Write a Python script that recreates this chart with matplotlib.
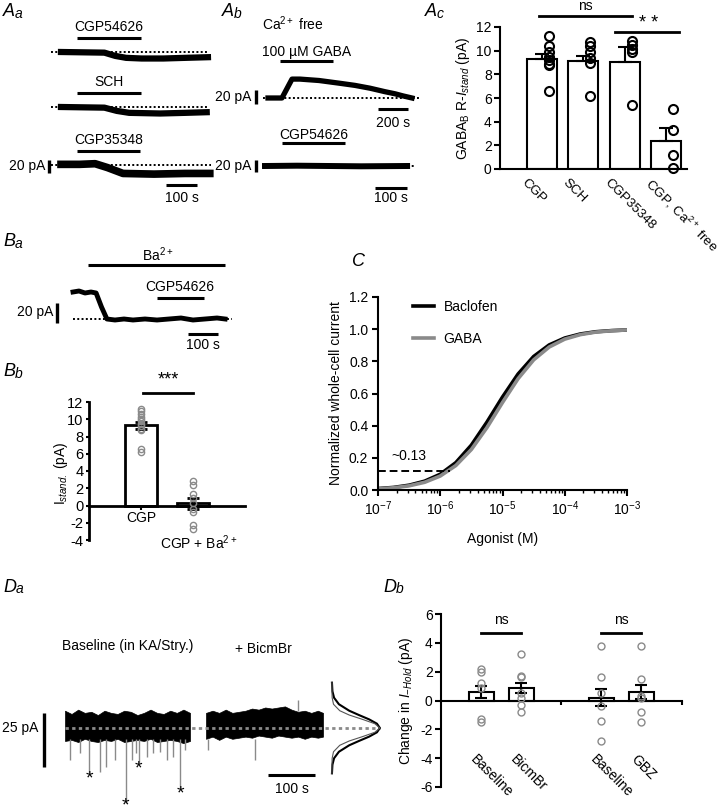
import numpy as np
import matplotlib.pyplot as plt

plt.rcParams['font.family'] = ['Liberation Sans', 'DejaVu Sans']
plt.rcParams['font.size'] = 10
plt.rcParams['mathtext.fontset'] = 'custom'
plt.rcParams['mathtext.rm'] = 'Liberation Sans'
plt.rcParams['mathtext.it'] = 'Liberation Sans:italic'
plt.rcParams['mathtext.bf'] = 'Liberation Sans:bold'
plt.rcParams['axes.linewidth'] = 1.5
plt.rcParams['axes.unicode_minus'] = False

W, H = 718, 811

# ---------------- data ----------------
# Aa: holding-current traces, time (s) / current (pA)
aa1_t = [0, 140, 175, 210, 260, 330, 400, 474]
aa1_i = [0, -1, -6, -9, -10, -10, -9, -8]
aa1_on = [52, 258]
aa2_t = [0, 140, 180, 220, 320, 400, 470]
aa2_i = [0, -1, -6, -9, -10, -9, -8]
aa2_on = [52, 258]
aa3_t = [0, 60, 110, 150, 200, 300, 400, 480]
aa3_i = [1, 1, 2, -4, -13, -14, -13, -13]
aa3_on = [52, 255]

# Ab: Ca2+ free, GABA then CGP54626
ab1_t = [0, 93, 160, 213, 340, 480, 580, 680, 780, 847, 900, 960]
ab1_i = [0, 0, 27, 27, 25, 21, 18, 14, 9, 6, 3, 0]
ab1_on = [80, 433]
ab2_t = [0, 100, 200, 300, 444]
ab2_i = [0, 0.5, 0, -0.5, 0]
ab2_on = [53, 250]

# Ac: GABAB R-I_stand
ac_labels = ["CGP", "SCH", "CGP35348", "CGP, Ca$^{2+}$ free"]
ac_mean = [9.3, 9.1, 9.05, 2.4]
ac_sem = [0.4, 0.45, 1.25, 1.1]
ac_pts = [[11.2, 10.4, 9.9, 9.5, 9.2, 8.9, 8.8, 6.6],
          [10.7, 10.4, 9.9, 9.4, 9.0, 6.2],
          [10.8, 10.5, 10.1, 9.9, 5.4],
          [5.1, 3.3, 1.2, 0.1]]

# Ba: Ba2+ then CGP54626
ba_t = [0, 20, 40, 60, 77, 95, 113, 140, 170, 200, 240, 280, 320, 360, 400, 440, 480, 507]
ba_i = [27, 28, 26, 27, 26, 12, 0, -1, 0, -1, 0, -1, 0, 1, -1, 0, 1, 0]
ba_ba_on = [50, 507]
ba_cgp_on = [280, 437]

# Bb: I_stand
bb_labels = ["CGP", "CGP + Ba$^{2+}$"]
bb_mean = [9.3, 0.25]
bb_sem = [0.4, 0.65]
bb_pts = [[11.2, 10.9, 10.6, 10.3, 10.0, 9.8, 9.5, 9.2, 8.9, 8.7, 6.6, 6.2],
          [2.8, 2.4, 1.3, 0.9, 0.3, -0.4, -0.8, -2.3, -2.7]]

# C: dose-response
c_logx = [-7, -6.75, -6.5, -6.25, -6, -5.75, -5.5, -5.25, -5, -4.75, -4.5, -4.25, -4, -3.75, -3.5, -3.25, -3]
c_baclofen = [0.009, 0.016, 0.030, 0.055, 0.098, 0.170, 0.279, 0.422, 0.578, 0.721, 0.830, 0.902, 0.945, 0.970, 0.984, 0.991, 0.995]
c_gaba = [0.0075, 0.014, 0.026, 0.048, 0.087, 0.152, 0.252, 0.388, 0.544, 0.692, 0.809, 0.889, 0.938, 0.966, 0.982, 0.990, 0.995]
c_thresh = 0.12

# Da: baseline (KA/Stry.) and + BicmBr noise envelopes
da1_t = [0, 14, 28, 42, 56, 70, 84, 98, 112, 126, 140, 154, 168, 182, 196, 210, 224, 238, 252, 266]
da1_hi = [8, 6.5, 8.5, 7, 7.5, 6, 8, 7, 6.5, 8, 7.5, 6, 7, 8.5, 7, 6.5, 8, 7, 8.5, 7]
da1_lo = [-6, -5.5, -6.5, -5, -6, -6.5, -5.5, -6, -5, -6.5, -6, -5.5, -6, -5, -6.5, -6, -5.5, -6, -7, -6]
da2_t = [300, 314, 328, 342, 356, 370, 384, 398, 412, 426, 440, 454, 468, 482, 496, 510, 524, 538, 549]
da2_hi = [7, 8, 7, 8.5, 7, 7.5, 8, 9, 8.5, 9.5, 9, 9.5, 10, 8.5, 7.5, 8, 7, 8, 7]
da2_lo = [-5, -4, -5.5, -4, -5, -4.5, -4, -4.5, -3.5, -4, -4.5, -3.5, -4, -4.5, -4, -5, -4, -4.5, -4]
da_spk_t = [11, 32, 52, 75, 87, 106, 129, 142, 151, 157, 174, 188, 202, 216, 230, 245, 255, 305, 404]
da_spk_i = [-14.8, -11.6, -20.8, -20.4, -18, -14.8, -34.7, -14.8, -11.6, -16.2, -13.4, -11.6, -11, -14.8, -13.4, -27.8, -10, -10.2, -14.8]
da_star_t = [52, 129, 157, 245]
da_star_i = [-20.8, -33.5, -16.2, -27.8]
da_hist_i = [-21, -17, -14, -11, -8, -6, -4, -2, 0, 2, 4, 6, 8, 11, 14, 17, 21]
da_hist_base = [0.0, 0.01, 0.044, 0.145, 0.36, 0.563, 0.775, 0.938, 1.0, 0.938, 0.775, 0.563, 0.36, 0.145, 0.044, 0.01, 0.0]
da_hist_bic = [0.0, 0.0, 0.004, 0.032, 0.163, 0.361, 0.636, 0.893, 1.0, 0.893, 0.636, 0.361, 0.163, 0.032, 0.004, 0.0, 0.0]

# Db: change in I-Hold
db_labels = ["Baseline", "BicmBr", "Baseline", "GBZ"]
db_mean = [0.6, 0.85, 0.2, 0.6]
db_sem = [0.4, 0.35, 0.6, 0.5]
db_pts = [[2.2, 2.0, 1.2, 0.9, -1.3, -1.5],
          [3.2, 1.7, 1.6, 0.5, 0.2, -0.3, -0.8],
          [3.8, 1.6, 0.5, -0.4, -1.4, -2.8],
          [3.8, 1.5, 0.3, 0.2, -0.8, -1.5]]

GREY = '#8a8a8a'

fig = plt.figure(figsize=(W / 100, H / 100), dpi=100)


def px_axes(x0, y0, x1, y1):
    return fig.add_axes([x0 / W, 1 - y1 / H, (x1 - x0) / W, (y1 - y0) / H])


def trace_ax(x0, y0, sx, sy, tr, ir):
    # axes in data units (s, pA) with t=0, I=0 at pixel (x0, y0)
    ax = px_axes(x0 + tr[0] * sx, y0 - ir[1] * sy, x0 + tr[1] * sx, y0 - ir[0] * sy)
    ax.set_xlim(*tr)
    ax.set_ylim(*ir)
    ax.axis('off')
    ax.patch.set_visible(False)
    return ax


def hbar(ax, x, y, lw=2.2):
    ax.plot(x, [y, y], color='k', lw=lw, solid_capstyle='butt')


def vbar(ax, x, y, lw=2.2):
    ax.plot([x, x], y, color='k', lw=lw, solid_capstyle='butt')


DOT = (0, (1, 1.2))


def panel_label(x, y, big, small):
    fig.text(x / W, 1 - y / H, big, fontsize=13, style='italic', va='center')
    if small:
        dx = 13 if big == 'D' else 12
        fig.text((x + dx) / W, 1 - (y + 2) / H, small, fontsize=10, style='italic', va='center')


panel_label(3, 12, 'A', 'a')
panel_label(222, 12, 'A', 'b')
panel_label(425, 12, 'A', 'c')
panel_label(3, 242, 'B', 'a')
panel_label(3, 372, 'B', 'b')
panel_label(352, 262, 'C', '')
panel_label(3, 587, 'D', 'a')
panel_label(383, 587, 'D', 'b')

# ---------------- Aa ----------------
for y0, t, i, on, name, lw in [(52, aa1_t, aa1_i, aa1_on, 'CGP54626', 4.5),
                               (107, aa2_t, aa2_i, aa2_on, 'SCH', 4.5),
                               (165, aa3_t, aa3_i, aa3_on, 'CGP35348', 5.5)]:
    ax = trace_ax(61, y0, 0.31, 0.65, (-200, 600), (-70, 80))
    ax.plot([t[0] - 32, t[-1] + 4], [0, 0], color='k', lw=1.4, ls=DOT)
    ax.plot(t, i, color='k', lw=lw)
    hbar(ax, on, 22)
    ax.text(np.mean(on), 38, name, ha='center', va='center')
    if name == 'CGP35348':
        vbar(ax, -39, [7.7, -12.3], lw=2.4)
        ax.text(-52, -1, '20 pA', ha='right', va='center')
        hbar(ax, [339, 439], -31)
        ax.text(389, -51, '100 s', ha='center', va='center')

# ---------------- Ab ----------------
ax = trace_ax(268, 98, 0.15, 0.7, (-400, 1100), (-60, 130))
ax.plot([-33, 1013], [0, 0], color='k', lw=1.4, ls=DOT)
ax.plot(ab1_t, ab1_i, color='k', lw=3.8)
hbar(ax, ab1_on, 53)
ax.text(-40, 66, '100 µM GABA', ha='left', va='center')
ax.text(-40, 106, 'Ca$^{2+}$ free', ha='left', va='center')
vbar(ax, -80, [11.4, -8.6], lw=2.4)
ax.text(-113, 1, '20 pA', ha='right', va='center')
hbar(ax, [733, 933], -16)
ax.text(833, -36, '200 s', ha='center', va='center')

ax = trace_ax(265, 166, 0.32, 0.6, (-200, 550), (-70, 80))
ax.plot([-10, 470], [0, 0], color='k', lw=1.4, ls=DOT)
ax.plot(ab2_t, ab2_i, color='k', lw=4.3)
hbar(ax, ab2_on, 38)
ax.text(np.mean(ab2_on) + 2, 52, 'CGP54626', ha='center', va='center')
vbar(ax, -28, [10, -10], lw=2.4)
ax.text(-44, 0, '20 pA', ha='right', va='center')
hbar(ax, [344, 444], -37)
ax.text(394, -53, '100 s', ha='center', va='center')

# ---------------- Ac ----------------
ax = px_axes(500, 27, 687, 169)
pos = np.arange(1, 5)
ax.bar(pos, ac_mean, width=0.72, color='white', edgecolor='k', lw=1.5, zorder=2)
ax.errorbar(pos, ac_mean, yerr=[[0] * 4, ac_sem], fmt='none', ecolor='k',
            elinewidth=1.5, capsize=5, capthick=1.5, zorder=3)
for p, pts in zip(pos, ac_pts):
    ax.plot([p + 0.17] * len(pts), pts, 'o', ms=6.5, mfc='none', mec='k', mew=1.5,
            zorder=4, clip_on=False)
ax.set_xlim(0, 4.5)
ax.set_ylim(0, 12)
ax.set_yticks(range(0, 13, 2))
ax.set_xticks([])
ax.spines[['top', 'right']].set_visible(False)
ax.tick_params(axis='y', length=4, width=1.5, labelsize=10, pad=2)
ax.set_ylabel(r'GABA$_\mathrm{B}$ R-$\mathit{I}_{\mathit{stand}}$ (pA)', labelpad=3)
for p, lab in zip(pos, ac_labels):
    ax.text(p - 0.44, -1.0, lab, rotation=-45, rotation_mode='anchor',
            ha='left', va='center', fontsize=9.6)
ax.plot([0.94, 3.17], [12.96, 12.96], color='k', lw=2, clip_on=False)
ax.text(2.05, 13.2, 'ns', ha='center', va='bottom')
ax.plot([2.77, 4.3], [11.6, 11.6], color='k', lw=2, clip_on=False)
ax.text(3.57, 11.55, '* *', ha='center', va='bottom', fontsize=13)

# ---------------- Ba ----------------
ax = trace_ax(73, 319, 0.30, 1.0, (-250, 600), (-40, 80))
ax.plot([0, 530], [0, 0], color='k', lw=1.4, ls=DOT)
ax.plot(ba_t, ba_i, color='k', lw=3.5)
hbar(ax, ba_ba_on, 54)
ax.text(283, 64, 'Ba$^{2+}$', ha='center', va='center')
hbar(ax, ba_cgp_on, 21)
ax.text(357, 32, 'CGP54626', ha='center', va='center')
vbar(ax, -53, [16, -4], lw=2.4)
ax.text(-67, 7, '20 pA', ha='right', va='center')
hbar(ax, [383, 483], -15)
ax.text(433, -26, '100 s', ha='center', va='center')

# ---------------- Bb ----------------
ax = px_axes(89, 402, 245, 540)
pos = np.array([1, 2])
ax.bar(pos, bb_mean, width=0.6, color='white', edgecolor='k', lw=2, zorder=2)
ax.errorbar(pos, bb_mean, yerr=bb_sem, fmt='none', ecolor='k', elinewidth=2,
            capsize=4, capthick=2, zorder=3)
for p, pts in zip(pos, bb_pts):
    ax.plot([p] * len(pts), pts, 'o', ms=4.5, mfc='none', mec=GREY, mew=1,
            zorder=4, clip_on=False)
ax.set_xlim(0, 3)
ax.set_ylim(-4, 12)
ax.set_yticks(range(-4, 13, 2))
ax.spines[['top', 'right']].set_visible(False)
ax.spines['bottom'].set_position(('data', 0))
ax.spines['bottom'].set_linewidth(2)
ax.spines['left'].set_linewidth(2)
ax.set_xticks([1])
ax.set_xticklabels([])
ax.tick_params(axis='x', length=3, width=1.5, direction='out')
ax.tick_params(axis='y', length=2.5, width=1.5, labelsize=10.5, pad=1.5)
fig.text(61 / W, 1 - 473 / H, r'$\mathrm{I}_{\mathit{stand.}}$ (pA)', rotation=90,
         ha='center', va='center')
ax.text(1, -1.5, bb_labels[0], ha='center', va='center')
ax.text(2.1, -4.3, bb_labels[1], ha='center', va='center')
ax.plot([1.04, 2.0], [13.0, 13.0], color='k', lw=2, clip_on=False)
ax.text(1.52, 13.6, '***', ha='center', va='bottom', fontsize=13)

# ---------------- C ----------------
ax = px_axes(378, 297, 627, 490)
ax.plot(10.0 ** np.array(c_logx), c_baclofen, color='k', lw=2.6, label='Baclofen')
ax.plot(10.0 ** np.array(c_logx), c_gaba, color=GREY, lw=2.6, label='GABA')
ax.plot([1e-7, 1.45e-6], [c_thresh, c_thresh], color='k', lw=1.4, ls=(0, (4, 2)))
ax.text(1.65e-7, 0.21, '~0.13', ha='left', va='center')
ax.set_xscale('log')
ax.set_xlim(1e-7, 1e-3)
ax.set_ylim(0, 1.2)
ax.set_yticks(np.arange(0, 1.21, 0.2))
ax.set_yticklabels([f'{v:.1f}' for v in np.arange(0, 1.21, 0.2)])
ax.spines[['top', 'right']].set_visible(False)
ax.tick_params(axis='both', which='major', length=4, width=1.5, labelsize=10, pad=3)
ax.tick_params(axis='x', which='minor', length=2.5, width=1)
ax.set_xlabel('Agonist (M)', labelpad=10)
ax.set_ylabel('Normalized whole-cell current', labelpad=4)
ax.legend(loc='upper left', bbox_to_anchor=(0.13, 1.0), frameon=False,
          handlelength=1.5, handletextpad=0.7, labelspacing=1.3, borderaxespad=0,
          borderpad=0.2, fontsize=10)

# ---------------- Da ----------------
ax = trace_ax(65, 728, 0.47, 2.16, (-150, 700), (-50, 50))
ax.vlines(da_spk_t, -5, da_spk_i, color=GREY, lw=1)
ax.fill_between(da1_t, da1_lo, da1_hi, color='k', lw=0.5)
ax.fill_between(da2_t, da2_lo, da2_hi, color='k', lw=0.5)
ax.vlines([495], 8, 13, color=GREY, lw=1)
ax.plot([0, 670], [0, 0], color=GREY, lw=2, ls=(0, (1.2, 1.2)))
for t, i in zip(da_star_t, da_star_i):
    ax.text(t, i + 1.2, '*', ha='center', va='top', fontsize=14)
ax.plot(568 + 102 * np.array(da_hist_base), da_hist_i, color='k', lw=1.5)
ax.plot(568 + 102 * np.array(da_hist_bic), da_hist_i, color='#555555', lw=0.8)
vbar(ax, -45, [6.9, -18.1], lw=2.4)
ax.text(-57, 0, '25 pA', ha='right', va='center')
hbar(ax, [432, 532], -21.8)
ax.text(482, -28.4, '100 s', ha='center', va='center')
ax.text(134, 38, 'Baseline (in KA/Stry.)', ha='center', va='center')
ax.text(423, 36.6, '+ BicmBr', ha='center', va='center')

# ---------------- Db ----------------
ax = px_axes(441, 614, 681.5, 787)
pos = np.array([1, 2, 4, 5])
ax.bar(pos, db_mean, width=0.625, color='white', edgecolor='k', lw=1.5, zorder=2)
ax.errorbar(pos, db_mean, yerr=db_sem, fmt='none', ecolor='k', elinewidth=1.5,
            capsize=4, capthick=1.5, zorder=3)
for p, pts in zip(pos, db_pts):
    ax.plot([p] * len(pts), pts, 'o', ms=5, mfc='none', mec=GREY, mew=1, zorder=4)
ax.set_xlim(0, 6)
ax.set_ylim(-6, 6)
ax.set_yticks(range(-6, 7, 2))
ax.spines[['top', 'right']].set_visible(False)
ax.spines['bottom'].set_position(('data', 0))
ax.set_xticks([3, 6])
ax.set_xticklabels([])
ax.tick_params(axis='x', length=3, width=1.5)
ax.tick_params(axis='y', length=4, width=1.5, labelsize=10, pad=2)
ax.set_ylabel(r'Change in $\mathit{I}_{\mathit{-Hold}}$ (pA)', labelpad=4)
for p, lab in zip(pos, db_labels):
    ax.text(p - 0.22, -3.9, lab, rotation=-45, rotation_mode='anchor',
            ha='left', va='center')
for a, b in [(1, 2), (4, 5)]:
    ax.plot([a, b], [4.7, 4.7], color='k', lw=2)
    ax.text((a + b) / 2, 5.6, 'ns', ha='center', va='center')

fig.savefig('out.png', dpi=100)
